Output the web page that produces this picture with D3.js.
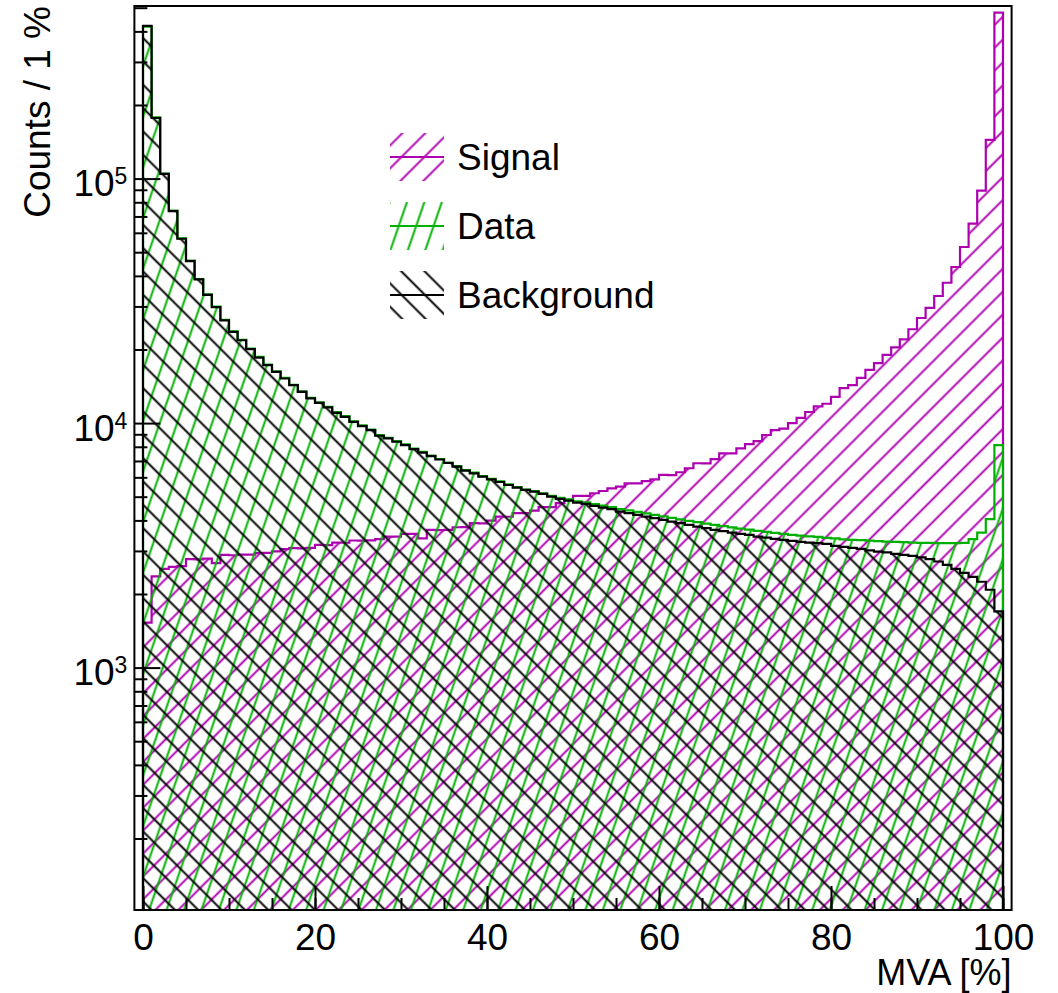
<!DOCTYPE html>
<html>
<head>
<meta charset="utf-8">
<script src="https://cdn.jsdelivr.net/npm/d3@7"></script>
<style>
  body { margin: 0; background: #fff; }
  text { font-family: "Liberation Sans", Arial, Helvetica, sans-serif; }
</style>
</head>
<body>
<div id="chart"></div>
<script>
// MVA bins, 1 % wide
const binEdges = d3.range(0, 101);

const signal = [
  1528, 2360, 2535, 2583, 2600, 2780, 2770, 2790, 2673, 2890,
  2880, 2900, 2895, 2940, 2945, 2985, 3050, 3080, 3075, 3090,
  3178, 3170, 3245, 3240, 3310, 3305, 3315, 3350, 3433, 3430,
  3523, 3520, 3380, 3656, 3650, 3660, 3750, 3755, 3897, 3890,
  3993, 4146, 4140, 4280, 4285, 4387, 4530, 4535, 4710, 4855,
  5035, 5040, 5165, 5275, 5410, 5495, 5670, 5665, 5795, 5890,
  6135, 6130, 6295, 6535, 6850, 6845, 7120, 7520, 7515, 7880,
  8205, 8445, 8940, 9360, 9500, 10000, 10500, 11100, 11700, 12000,
  12800, 13900, 14300, 15300, 16500, 17600, 19000, 20400, 22000, 24200,
  26900, 29600, 33100, 37500, 43500, 52500, 65400, 89300, 144000, 477000
];

const dataCounts = [
  418500, 178200, 104900, 73900, 56900, 46200, 38850, 33600, 29950, 26450,
  23700, 21900, 20150, 18650, 17330, 16280, 15300, 14350, 13480, 12680,
  12160, 11650, 11080, 10670, 10170, 9780, 9410, 8930, 8710, 8440,
  8180, 7870, 7620, 7370, 7130, 6900, 6670, 6420, 6270, 6070,
  5920, 5775, 5610, 5470, 5350, 5268, 5166, 5035, 4942, 4873,
  4791, 4737, 4658, 4596, 4532, 4448, 4394, 4332, 4272, 4212,
  4154, 4095, 4038, 3981, 3933, 3882, 3834, 3788, 3745, 3703,
  3665, 3624, 3590, 3556, 3523, 3490, 3464, 3441, 3425, 3393,
  3378, 3346, 3330, 3321, 3306, 3290, 3278, 3268, 3259, 3246,
  3237, 3237, 3228, 3228, 3232, 3237, 3352, 3566, 4045, 8133
];

const background = [
  421000, 176900, 104500, 73550, 56750, 45970, 38700, 33460, 29830, 26330,
  23590, 21820, 20050, 18540, 17250, 16200, 15220, 14290, 13420, 12610,
  12100, 11590, 11020, 10610, 10120, 9723, 9363, 8876, 8662, 8389,
  8133, 7832, 7578, 7333, 7096, 6866, 6631, 6387, 6233, 6036,
  5891, 5743, 5583, 5443, 5327, 5243, 5131, 5003, 4896, 4819,
  4728, 4671, 4584, 4512, 4445, 4345, 4280, 4212, 4146, 4083,
  4018, 3954, 3895, 3834, 3773, 3717, 3658, 3614, 3566, 3523,
  3490, 3435, 3402, 3361, 3330, 3299, 3268, 3246, 3228, 3207,
  3148, 3118, 3089, 3060, 3017, 2983, 2961, 2919, 2892, 2865,
  2825, 2778, 2716, 2633, 2536, 2442, 2352, 2244, 2082, 1698
];

const xTicks = [0, 20, 40, 60, 80, 100];
const xMinorTicks = d3.range(0, 101, 5);
const yTicks = [1e3, 1e4, 1e5];
const yMinorTicks = [200, 300, 400, 500, 600, 700, 800, 900,
  2000, 3000, 4000, 5000, 6000, 7000, 8000, 9000,
  20000, 30000, 40000, 50000, 60000, 70000, 80000, 90000,
  200000, 300000, 400000, 500000];

const seriesNames = ["Signal", "Data", "Background"];

const width = 1058, height = 993;
const frame = { left: 134.4, right: 1011.6, top: 6, bottom: 910 };
const fontSize = 37;

const svg = d3.select("#chart").append("svg")
  .attr("width", width)
  .attr("height", height);

const x = d3.scaleLinear().domain([-1, 101]).range([frame.left, frame.right]);
const y = d3.scaleLog().domain([102, 5.08e5]).range([frame.bottom, frame.top]);

// hatch styles, lines drawn in page space like ROOT does
const styles = [
  { name: seriesNames[0], values: signal,     color: "#ad00b0", angle: -45, gap: 16.2, lw: 2 },
  { name: seriesNames[1], values: dataCounts, color: "#00b000", angle: -71, gap: 16.5, lw: 2 },
  { name: seriesNames[2], values: background, color: "#000000", angle: 45,  gap: 16.5, lw: 2 }
];

const defs = svg.append("defs");
styles.forEach((s, i) => {
  const p = defs.append("pattern")
    .attr("id", "hatch" + i)
    .attr("patternUnits", "userSpaceOnUse")
    .attr("width", 50)
    .attr("height", s.gap)
    .attr("patternTransform", `rotate(${s.angle})`);
  p.append("line")
    .attr("x1", 0).attr("x2", 50)
    .attr("y1", s.gap / 2).attr("y2", s.gap / 2)
    .attr("stroke", s.color)
    .attr("stroke-width", s.lw);
});

defs.append("clipPath").attr("id", "plotclip")
  .append("rect")
  .attr("x", frame.left).attr("y", frame.top)
  .attr("width", frame.right - frame.left)
  .attr("height", frame.bottom - frame.top);

const histArea = d3.area()
  .curve(d3.curveStepAfter)
  .x(d => x(d.edge))
  .y0(frame.bottom)
  .y1(d => y(d.value));

const plot = svg.append("g").attr("clip-path", "url(#plotclip)");

styles.forEach((s, i) => {
  const pts = binEdges.map((e, k) => ({ edge: e, value: s.values[Math.min(k, s.values.length - 1)] }));
  plot.append("path")
    .attr("d", histArea(pts))
    .attr("fill", `url(#hatch${i})`)
    .attr("stroke", s.color)
    .attr("stroke-width", 2.2)
    .attr("stroke-linejoin", "miter");
});

// x axis
const xAxis = svg.append("g")
  .attr("transform", `translate(0,${frame.bottom})`)
  .call(d3.axisBottom(x).tickValues(xTicks).tickSizeInner(-24).tickSizeOuter(0)
    .tickPadding(14).tickFormat(d3.format("d")));
svg.append("g")
  .attr("transform", `translate(0,${frame.bottom})`)
  .call(d3.axisBottom(x).tickValues(xMinorTicks).tickSizeInner(-12).tickSizeOuter(0).tickFormat(""));

// y axis
const yAxis = svg.append("g")
  .attr("transform", `translate(${frame.left},0)`)
  .call(d3.axisLeft(y).tickValues(yTicks).tickSizeInner(-26).tickSizeOuter(0)
    .tickPadding(7).tickFormat(""));
svg.append("g")
  .attr("transform", `translate(${frame.left},0)`)
  .call(d3.axisLeft(y).tickValues(yMinorTicks).tickSizeInner(-13).tickSizeOuter(0).tickFormat(""));

svg.selectAll(".domain").remove();
svg.selectAll(".tick line").attr("stroke", "#000").attr("stroke-width", 2);

xAxis.selectAll("text")
  .attr("font-size", fontSize)
  .attr("font-family", null)
  .attr("fill", "#000");

yAxis.selectAll(".tick text")
  .attr("font-size", fontSize)
  .attr("font-family", null)
  .attr("fill", "#000")
  .attr("dy", 17)
  .each(function(d) {
    const t = d3.select(this);
    t.append("tspan").text("10");
    t.append("tspan")
      .attr("font-size", 23)
      .attr("dy", -12)
      .text(Math.round(Math.log10(d)));
  });

// frame
svg.append("rect")
  .attr("x", frame.left).attr("y", frame.top)
  .attr("width", frame.right - frame.left)
  .attr("height", frame.bottom - frame.top)
  .attr("fill", "none")
  .attr("stroke", "#000")
  .attr("stroke-width", 2);

// titles
svg.append("text")
  .attr("x", frame.right).attr("y", 985)
  .attr("text-anchor", "end")
  .attr("font-size", 36)
  .text("MVA [%]");

svg.append("text")
  .attr("transform", `translate(50,${frame.top}) rotate(-90)`)
  .attr("text-anchor", "end")
  .attr("font-size", fontSize)
  .text("Counts / 1 %");

// legend
const legend = svg.append("g").attr("transform", "translate(390,157)");
const rowH = 69;
styles.forEach((s, i) => {
  const row = legend.append("g").attr("transform", `translate(0,${i * rowH})`);
  row.append("rect")
    .attr("x", 0).attr("y", -24)
    .attr("width", 54).attr("height", 48)
    .attr("fill", `url(#hatch${i})`);
  row.append("line")
    .attr("x1", 0).attr("x2", 54)
    .attr("y1", 0).attr("y2", 0)
    .attr("stroke", s.color)
    .attr("stroke-width", 2);
  row.append("text")
    .attr("x", 67).attr("y", 13)
    .attr("font-size", fontSize)
    .text(s.name);
});
</script>
</body>
</html>
